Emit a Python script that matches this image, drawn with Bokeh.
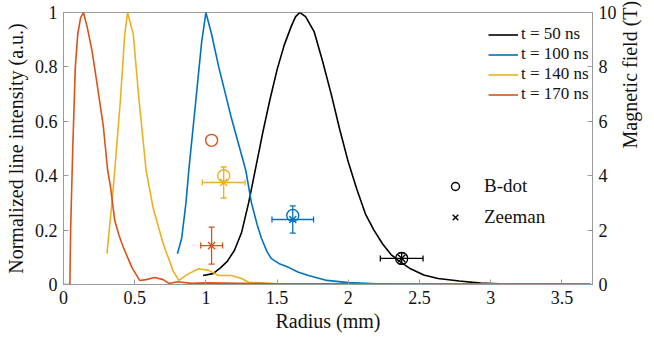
import math
from bokeh.plotting import figure
from bokeh.models import (Range1d, LinearAxis, Legend, LegendItem, ColumnDataSource,
                          Whisker, TeeHead, FixedTicker)
from bokeh.embed import file_html
from bokeh.resources import INLINE

# ---- data ----
r50 = [0.98, 1.05, 1.1, 1.15, 1.2, 1.25, 1.3, 1.35, 1.4, 1.45, 1.5, 1.55, 1.6, 1.63, 1.66,
       1.7, 1.76, 1.82, 1.88, 1.94, 2.0, 2.06, 2.12, 2.18, 2.24, 2.3, 2.36, 2.43, 2.53,
       2.63, 2.78, 2.93, 3.1, 3.4, 3.7]
i50 = [0.033, 0.04, 0.06, 0.085, 0.125, 0.19, 0.3, 0.43, 0.56, 0.68, 0.79, 0.88, 0.95, 0.985, 1.0,
       0.985, 0.93, 0.82, 0.7, 0.57, 0.45, 0.35, 0.26, 0.2, 0.15, 0.11, 0.085, 0.06, 0.035,
       0.022, 0.013, 0.005, 0.002, 0.001, 0.0]

r100 = [0.8, 0.83, 0.86, 0.88, 0.93, 0.97, 1.0, 1.04, 1.09, 1.18, 1.28, 1.32, 1.36, 1.39, 1.43,
        1.46, 1.52, 1.58, 1.65, 1.72, 1.85, 2.0, 2.2, 2.6, 3.7]
i100 = [0.113, 0.17, 0.3, 0.42, 0.68, 0.89, 1.0, 0.92, 0.8, 0.61, 0.42, 0.3, 0.22, 0.17, 0.12,
        0.095, 0.075, 0.063, 0.045, 0.033, 0.015, 0.007, 0.003, 0.001, 0.0]

r140 = [0.305, 0.34, 0.36, 0.4, 0.43, 0.45, 0.49, 0.53, 0.58, 0.63, 0.7, 0.77, 0.81, 0.85, 0.88,
        0.95, 1.02, 1.09, 1.18, 1.25, 1.3, 1.5, 2.0, 3.7]
i140 = [0.113, 0.3, 0.42, 0.68, 0.92, 1.0, 0.92, 0.68, 0.42, 0.28, 0.15, 0.05, 0.015, 0.03, 0.04,
        0.058, 0.052, 0.033, 0.033, 0.022, 0.008, 0.003, 0.002, 0.001]

r170 = [0.0, 0.045, 0.05, 0.065, 0.083, 0.1, 0.12, 0.14, 0.165, 0.2, 0.235, 0.28, 0.31, 0.33, 0.36,
        0.39, 0.42, 0.48, 0.535, 0.58, 0.64, 0.7, 0.74, 0.8, 0.9, 1.0, 1.5, 2.0, 3.0, 3.7]
i170 = [0.0, 0.0, 0.2, 0.5, 0.8, 0.92, 0.98, 1.0, 0.95, 0.86, 0.74, 0.58, 0.42, 0.36, 0.235,
        0.18, 0.137, 0.063, 0.015, 0.018, 0.026, 0.018, 0.004, 0.01, 0.004, 0.006, 0.003, 0.003,
        0.002, 0.002]

labels = ["t = 50 ns", "t = 100 ns", "t = 140 ns", "t = 170 ns"]
colors = ["#000000", "#0072BD", "#EDB120", "#D95319"]

# magnetic field points (T), order: 50, 100, 140, 170 ns
pos_r = [2.375, 1.61, 1.125, 1.04]
pos_err = [0.15, 0.146, 0.15, 0.077]
bdot_B = [0.96, 2.54, 4.0, 5.3]
zee_B = [0.96, 2.39, 3.75, 1.43]
zee_err = [0.2, 0.5, 0.57, 0.68]

xticks = [0, 0.5, 1, 1.5, 2, 2.5, 3, 3.5]
yticks = [0, 0.2, 0.4, 0.6, 0.8, 1]
bticks = [0, 2, 4, 6, 8, 10]

FONT = "Liberation Serif"
AX = "#9a9a9a"
TXT = "#111111"
XMAX = 3.715

p = figure(width=654, height=348, output_backend="svg", toolbar_location=None,
           x_range=Range1d(0, XMAX), y_range=Range1d(0, 1),
           min_border_left=63, min_border_right=56, min_border_top=12, min_border_bottom=64)
p.extra_y_ranges = {"B": Range1d(0, 10)}
p.grid.visible = False
p.outline_line_color = AX
p.background_fill_color = "white"

rends = []
for xs, ys, c in zip([r50, r100, r140, r170], [i50, i100, i140, i170], colors):
    rends.append(p.line(xs, ys, line_color=c, line_width=1.6))

for k in range(4):
    c = colors[k]
    src = ColumnDataSource(dict(x=[pos_r[k]], y=[zee_B[k]],
                                ylo=[zee_B[k] - zee_err[k]], yhi=[zee_B[k] + zee_err[k]],
                                xlo=[pos_r[k] - pos_err[k]], xhi=[pos_r[k] + pos_err[k]]))
    wv = Whisker(source=src, base="x", lower="ylo", upper="yhi", dimension="height",
                 y_range_name="B", line_color=c, line_width=1.3,
                 upper_head=TeeHead(size=6, line_color=c, line_width=1.3),
                 lower_head=TeeHead(size=6, line_color=c, line_width=1.3))
    wh = Whisker(source=src, base="y", lower="xlo", upper="xhi", dimension="width",
                 y_range_name="B", line_color=c, line_width=1.3,
                 upper_head=TeeHead(size=6, line_color=c, line_width=1.3),
                 lower_head=TeeHead(size=6, line_color=c, line_width=1.3))
    p.add_layout(wv)
    p.add_layout(wh)
    p.scatter([pos_r[k]], [bdot_B[k]], marker="circle", size=12, fill_color=None,
              line_color=c, line_width=1.4, y_range_name="B")
    p.scatter([pos_r[k]], [zee_B[k]], marker="x", size=10, line_color=c, line_width=1.4,
              y_range_name="B")

# legend proxies for markers (not visible in the plot area)
nan = float("nan")
proxy_c = p.scatter([nan], [nan], marker="circle", size=12, fill_color=None, line_color="black",
                    line_width=1.4)
proxy_x = p.scatter([nan], [nan], marker="x", size=9, line_color="black", line_width=1.4)

def style_axis(ax):
    ax.axis_line_color = AX
    ax.major_tick_line_color = AX
    ax.major_tick_in = 5
    ax.major_tick_out = 0
    ax.minor_tick_line_color = None
    ax.major_label_text_font = FONT
    ax.major_label_text_font_size = "18px"
    ax.major_label_text_color = TXT
    ax.axis_label_text_font = FONT
    ax.axis_label_text_font_size = "20px"
    ax.axis_label_text_font_style = "normal"
    ax.axis_label_text_color = TXT

p.xaxis.ticker = FixedTicker(ticks=xticks)
p.yaxis.ticker = FixedTicker(ticks=yticks)
p.xaxis.major_label_overrides = {v: ("%g" % v) for v in xticks}
p.yaxis.major_label_overrides = {v: ("%g" % v) for v in yticks}
p.xaxis.axis_label = "Radius (mm)"
p.yaxis.axis_label = "Normalized line intensity (a.u.)"
style_axis(p.xaxis[0])
style_axis(p.yaxis[0])
p.xaxis.major_label_standoff = 6
p.xaxis.axis_label_standoff = 3
p.yaxis.major_label_standoff = 6
p.yaxis.axis_label_standoff = 5

rax = LinearAxis(y_range_name="B", ticker=FixedTicker(ticks=bticks),
                 axis_label="Magnetic field (T)")
style_axis(rax)
rax.major_label_standoff = 6
rax.axis_label_standoff = 10
rax.axis_label_orientation = math.pi / 2
p.add_layout(rax, "right")

leg1 = Legend(items=[LegendItem(label=l, renderers=[r]) for l, r in zip(labels, rends)],
              location=(425, 180), padding=0, spacing=0, label_height=19, glyph_height=19,
              glyph_width=30, label_standoff=3, label_text_font=FONT,
              label_text_font_size="17px", label_text_color=TXT,
              border_line_color=None, background_fill_alpha=0)
leg2 = Legend(items=[LegendItem(label="B-dot", renderers=[proxy_c]),
                     LegendItem(label="Zeeman", renderers=[proxy_x])],
              location=(382, 56), padding=0, spacing=9, label_height=20, glyph_height=20,
              glyph_width=20, label_standoff=19, label_text_font=FONT,
              label_text_font_size="19px", label_text_color=TXT,
              border_line_color=None, background_fill_alpha=0)
p.add_layout(leg1, "center")
p.add_layout(leg2, "center")

open("out.html", "w").write(file_html(p, INLINE))
